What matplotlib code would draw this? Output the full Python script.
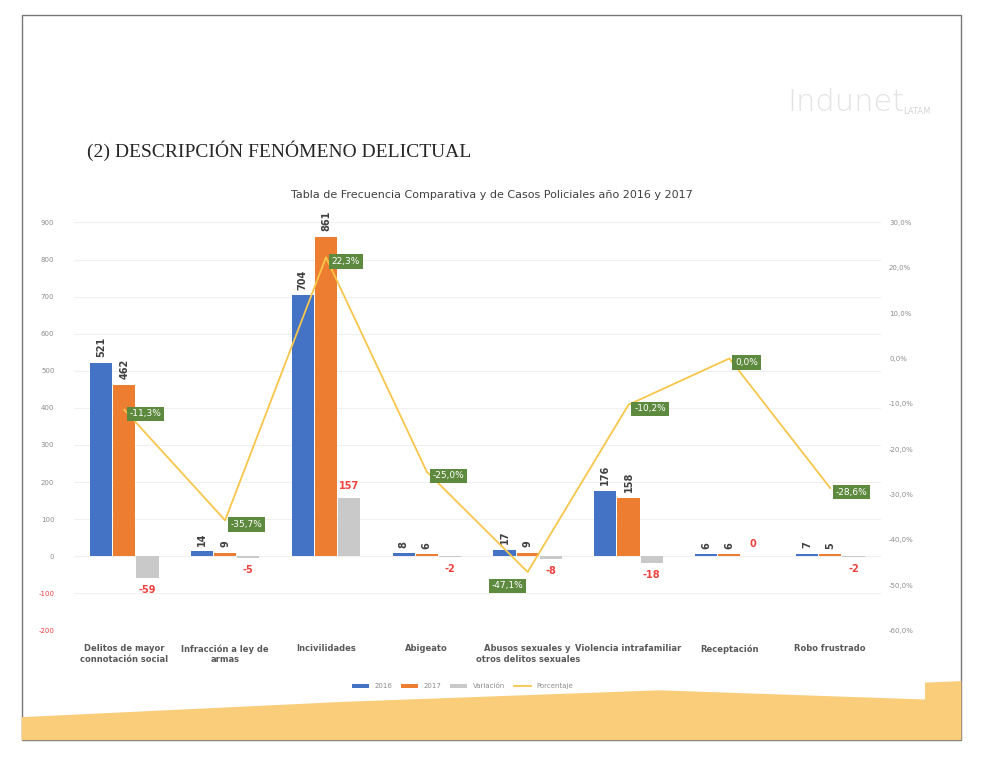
import matplotlib.pyplot as plt
from matplotlib.patches import Polygon, Rectangle
import numpy as np

categorias = ["Delitos de mayor\nconnotación social", "Infracción a ley de\narmas",
              "Incivilidades", "Abigeato", "Abusos sexuales y\notros delitos sexuales",
              "Violencia intrafamiliar", "Receptación", "Robo frustrado"]
casos_2016 = [521, 14, 704, 8, 17, 176, 6, 7]
casos_2017 = [462, 9, 861, 6, 9, 158, 6, 5]
variacion = [-59, -5, 157, -2, -8, -18, 0, -2]
porcentaje = [-11.3, -35.7, 22.3, -25.0, -47.1, -10.2, 0.0, -28.6]

izq_ticks = [900, 800, 700, 600, 500, 400, 300, 200, 100, 0, -100, -200]
der_ticks = [30, 20, 10, 0, -10, -20, -30, -40, -50, -60]

azul = "#4472C4"
naranja = "#ED7D31"
gris = "#A5A5A5"
amarillo = "#F7C64A"
verde = "#5E8A3F"
rojo = "#F0413F"

fig = plt.figure(figsize=(9.84, 7.67), dpi=100)

# borde de la diapositiva y franja inferior
fig.patches.append(Rectangle((0.022, 0.035), 0.955, 0.945, transform=fig.transFigure,
                             fill=False, edgecolor="#777777", linewidth=1.0))
franja = [(0.022, 0.035), (0.022, 0.065), (0.35, 0.085), (0.67, 0.10), (0.94, 0.088),
          (0.94, 0.11), (0.977, 0.112), (0.977, 0.035)]
fig.patches.append(Polygon(franja, closed=True, transform=fig.transFigure,
                           facecolor="#F9CD7A", edgecolor="none"))

fig.text(0.088, 0.795, "(2) DESCRIPCIÓN FENÓMENO DELICTUAL", family="Liberation Serif",
         fontsize=14, color="#262626")
fig.text(0.80, 0.855, "Indunet", fontsize=22, color="#E3E3E3", fontweight="light")
fig.text(0.918, 0.852, "LATAM", fontsize=6, color="#D5D5D5")
fig.text(0.50, 0.742, "Tabla de Frecuencia Comparativa y de Casos Policiales año 2016 y 2017",
         ha="center", fontsize=8, color="#404040")

ax = fig.add_axes([0.075, 0.178, 0.82, 0.532])
x = np.arange(len(categorias))
w = 0.22

b1 = ax.bar(x - 0.23, casos_2016, w, color=azul, label="2016")
b2 = ax.bar(x, casos_2017, w, color=naranja, label="2017")
b3 = ax.bar(x + 0.23, variacion, w, color="#C9C9C9", label="Variación")

ax.bar_label(b1, rotation=90, padding=4, fontsize=7, fontweight="bold", color="#404040")
ax.bar_label(b2, rotation=90, padding=4, fontsize=7, fontweight="bold", color="#404040")
ax.bar_label(b3, padding=5, fontsize=7, fontweight="bold", color=rojo)

ax.set_ylim(-200, 900)
ax.set_yticks(izq_ticks)
ax.set_yticklabels([str(t) for t in izq_ticks])
for lbl, t in zip(ax.get_yticklabels(), izq_ticks):
    lbl.set_color(rojo if t < 0 else "#8C8C8C")
ax.tick_params(axis="y", labelsize=5, length=0, pad=14)
ax.set_xlim(-0.5, len(categorias) - 0.5)
ax.set_xticks(x)
ax.set_xticklabels(categorias, fontsize=6, fontweight="bold", color="#595959")
ax.tick_params(axis="x", length=0, pad=10)
ax.grid(axis="y", color="#F0F0F0", linewidth=0.8)
ax.set_axisbelow(True)
for s in ax.spines.values():
    s.set_visible(False)

ax2 = ax.twinx()
linea, = ax2.plot(x, porcentaje, color=amarillo, linewidth=1.3, label="Porcentaje")
for i, (xi, p) in enumerate(zip(x, porcentaje)):
    if i == 4:
        off, ha = (-3, -10), "right"
    else:
        off, ha = (4, -3), "left"
    ax2.annotate(f"{p:.1f}%".replace(".", ","), (xi, p), xytext=off, textcoords="offset points",
                 ha=ha, va="center", fontsize=6.5, color="white",
                 bbox=dict(boxstyle="square,pad=0.3", facecolor=verde, edgecolor="none"))
ax2.set_ylim(-60, 30)
ax2.set_yticks(der_ticks)
ax2.set_yticklabels([f"{t:.1f}%".replace(".", ",") for t in der_ticks])
ax2.tick_params(axis="y", labelsize=5, length=0, labelcolor="#8C8C8C", pad=6)
for s in ax2.spines.values():
    s.set_visible(False)

h = [b1, b2, b3, linea]
fig.legend(h, [a.get_label() for a in h], loc="center", bbox_to_anchor=(0.47, 0.105),
           ncol=4, fontsize=5, frameon=False, labelcolor="#8C8C8C",
           handlelength=2.5, columnspacing=1.2)

fig.savefig("out.png", dpi=100)
